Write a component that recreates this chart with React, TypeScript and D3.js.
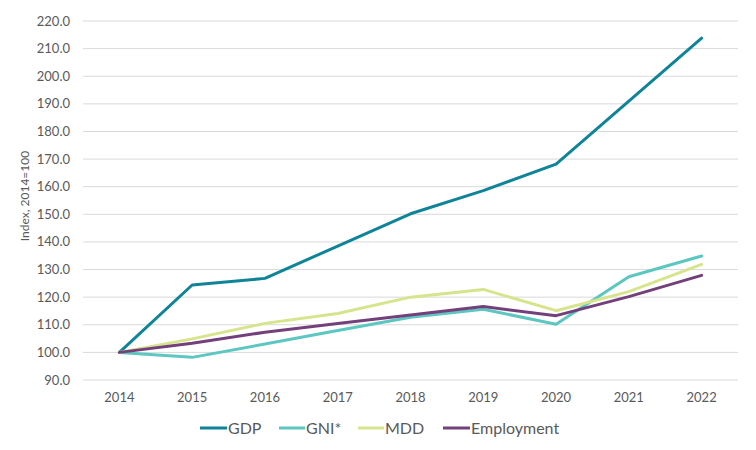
import React from "react";
import * as d3 from "d3";

const years = ["2014", "2015", "2016", "2017", "2018", "2019", "2020", "2021", "2022"];
const gdp = [100, 124.4, 126.8, 138.5, 150.2, 158.6, 168.2, 191.0, 213.8];
const gni = [100, 98.2, 103.0, 107.9, 112.7, 115.6, 110.2, 127.4, 134.9];
const mdd = [100, 104.9, 110.5, 114.1, 120.0, 122.8, 115.1, 122.0, 131.9];
const employment = [100, 103.3, 107.3, 110.5, 113.5, 116.6, 113.3, 120.2, 127.9];
const yTicks = [90, 100, 110, 120, 130, 140, 150, 160, 170, 180, 190, 200, 210, 220];

const seriesNames = ["GDP", "GNI*", "MDD", "Employment"];
const seriesValues = [gdp, gni, mdd, employment];
const colors = ["#0f8499", "#5cc7c0", "#d7e48c", "#74407c"];

const W = 756;
const H = 450;
const left = 83;
const right = 738;
const top = 21;
const bottom = 380;
const FONT = "Lato, 'Open Sans', sans-serif";

export default function App() {
  const x = d3.scaleBand().domain(years).range([left, right]);
  const y = d3.scaleLinear().domain([90, 220]).range([bottom, top]);
  const line = d3
    .line<number>()
    .x((_, i) => (x(years[i]) as number) + x.bandwidth() / 2)
    .y((d) => y(d));

  const legendItems = [
    { lx: 200, len: 27 },
    { lx: 279, len: 26 },
    { lx: 358, len: 26 },
    { lx: 443, len: 27 },
  ];

  return (
    <svg width={W} height={H} style={{ position: "absolute", left: 0, top: 0 }} fontFamily={FONT}>
      <rect width={W} height={H} fill="#fff" />
      {yTicks.map((t) => (
        <g key={t}>
          <line x1={left} x2={right} y1={y(t)} y2={y(t)} stroke="#d9d9d9" strokeWidth={1} />
          <text x={70} y={y(t)} dy="0.35em" textAnchor="end" fontSize={13} fill="#595959">
            {t.toFixed(1)}
          </text>
        </g>
      ))}
      {years.map((yr) => (
        <text
          key={yr}
          x={(x(yr) as number) + x.bandwidth() / 2}
          y={397}
          dy="0.35em"
          textAnchor="middle"
          fontSize={13}
          fill="#595959"
        >
          {yr}
        </text>
      ))}
      <text
        transform={`translate(25,196) rotate(-90)`}
        textAnchor="middle"
        dy="0.35em"
        fontSize={12}
        fill="#595959"
      >
        Index, 2014=100
      </text>
      {seriesValues.map((vals, i) => (
        <path
          key={seriesNames[i]}
          d={line(vals) as string}
          fill="none"
          stroke={colors[i]}
          strokeWidth={3}
          strokeLinejoin="round"
          strokeLinecap="round"
        />
      ))}
      {seriesNames.map((n, i) => (
        <g key={n}>
          <line
            x1={legendItems[i].lx}
            x2={legendItems[i].lx + legendItems[i].len}
            y1={428}
            y2={428}
            stroke={colors[i]}
            strokeWidth={3}
          />
          <text
            x={legendItems[i].lx + legendItems[i].len + 1}
            y={428}
            dy="0.35em"
            fontSize={16}
            fill="#595959"
          >
            {n}
          </text>
        </g>
      ))}
    </svg>
  );
}
